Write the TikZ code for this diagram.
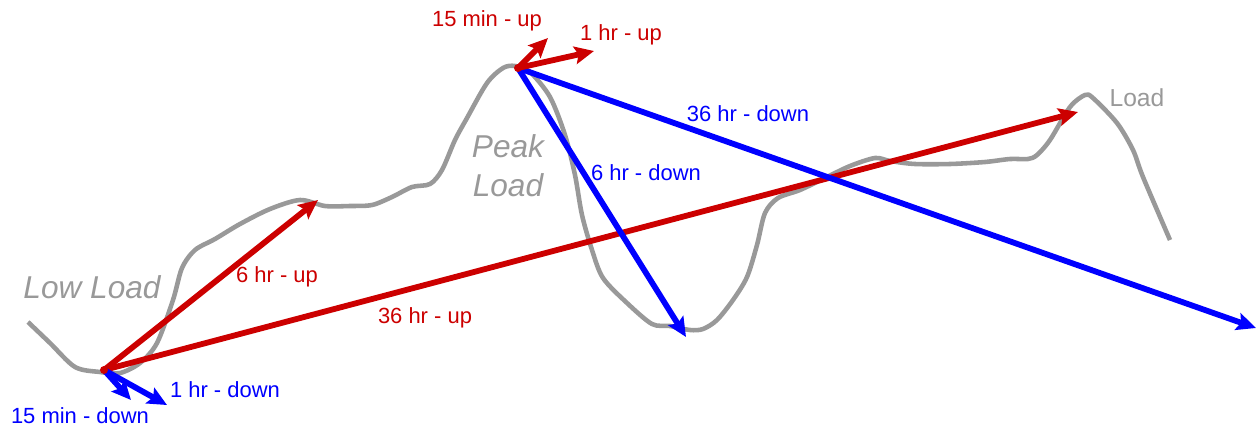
\documentclass[tikz,border=0pt]{standalone}
\usepackage{fontspec}
\setmainfont{Liberation Sans}
\usetikzlibrary{arrows.meta}
\definecolor{loadgray}{HTML}{999999}
\definecolor{upred}{HTML}{CC0000}
\definecolor{downblue}{HTML}{0000FF}

\begin{document}
\begin{tikzpicture}[
  x=0.02cm, y=-0.02cm,
  >={Stealth[length=11pt,width=10pt,inset=2pt]},
  ramp/.style={->, line width=3.3pt},
  rampup/.style={ramp, upred},
  rampdown/.style={ramp, downblue},
  lbl/.style={inner sep=0pt, font=\fontsize{12.5}{15}\selectfont},
  uplbl/.style={lbl, text=upred},
  downlbl/.style={lbl, text=downblue},
  loadlbl/.style={inner sep=0pt, text=loadgray, align=center,
                  font=\fontsize{18}{22}\selectfont\itshape}
]
  \useasboundingbox (0,0) rectangle (1259,427);
  %% Load curve
  \draw[loadgray, line width=2.6pt, line join=round]
    plot[smooth, tension=0.5] coordinates {
      (28,322) (50,343) (75,367) (100,372) (120,373) (140,363) (157,343)
      (173,300) (182,268) (195,250) (215,239) (240,224) (270,209) (300,200)
      (325,206) (350,206) (372,205) (392,197) (412,187) (430,184) (442,170)
      (455,140) (467,118) (487,83) (503,68) (515,66) (530,72) (550,97)
      (565,135) (575,175) (582,215) (592,250) (603,278) (627,303) (652,324)
      (670,326) (690,330) (703,329) (717,320) (733,300) (747,277) (757,245)
      (765,213) (778,198) (800,190) (825,178) (850,166) (875,158) (890,161)
      (915,164) (950,164) (985,162) (1010,159) (1028,159) (1037,155)
      (1050,140) (1070,107) (1085,95) (1093,98) (1117,123) (1133,150)
      (1143,177) (1170,240)};
  %% Start points
  \coordinate (low)  at (104,370);
  \coordinate (peak) at (518,68);
  %% Arrow ends
  \coordinate (up6)     at (318,200);
  \coordinate (up36)    at (1078,112);
  \coordinate (down15)  at (131,400);
  \coordinate (down1)   at (167,405);
  \coordinate (up15)    at (548,38);
  \coordinate (up1)     at (594,51);
  \coordinate (down6)   at (686,337);
  \coordinate (down36)  at (1256,328);
  %% Ramps from the low point
  \draw[rampup] (low) -- (up6);
  \draw[rampup] (low) -- (up36);
  \draw[rampdown] (low) -- (down15);
  \draw[rampdown] (low) -- (down1);
  %% Ramps from the peak
  \draw[rampdown] (peak) -- (down36);
  \draw[rampdown] (peak) -- (down6);
  \draw[rampup] (peak) -- (up15);
  \draw[rampup] (peak) -- (up1);
  \fill[upred] (low) circle (4);
  \fill[upred] (peak) circle (4);
  %% Labels
  \node[uplbl] (l-up15) at (487,21) {15 min - up};
  \node[uplbl] (l-up1) at (621,35) {1 hr - up};
  \node[uplbl] (l-up6) at (277,277) {6 hr - up};
  \node[uplbl] (l-up36) at (425,318) {36 hr - up};
  \node[downlbl] (l-down36) at (748,114) {36 hr - down};
  \node[downlbl] (l-down6) at (646,173) {6 hr - down};
  \node[downlbl] (l-down1) at (225,390) {1 hr - down};
  \node[downlbl] (l-down15) at (80,416) {15 min - down};
  \node[loadlbl] (peaklbl) at (508,166) {Peak\\Load};
  \node[loadlbl] (lowlbl) at (92,287) {Low Load};
  \node[inner sep=0pt, text=loadgray, font=\fontsize{14}{17}\selectfont]
    (loadlbl) at (1137,98) {Load};
\end{tikzpicture}
\end{document}
